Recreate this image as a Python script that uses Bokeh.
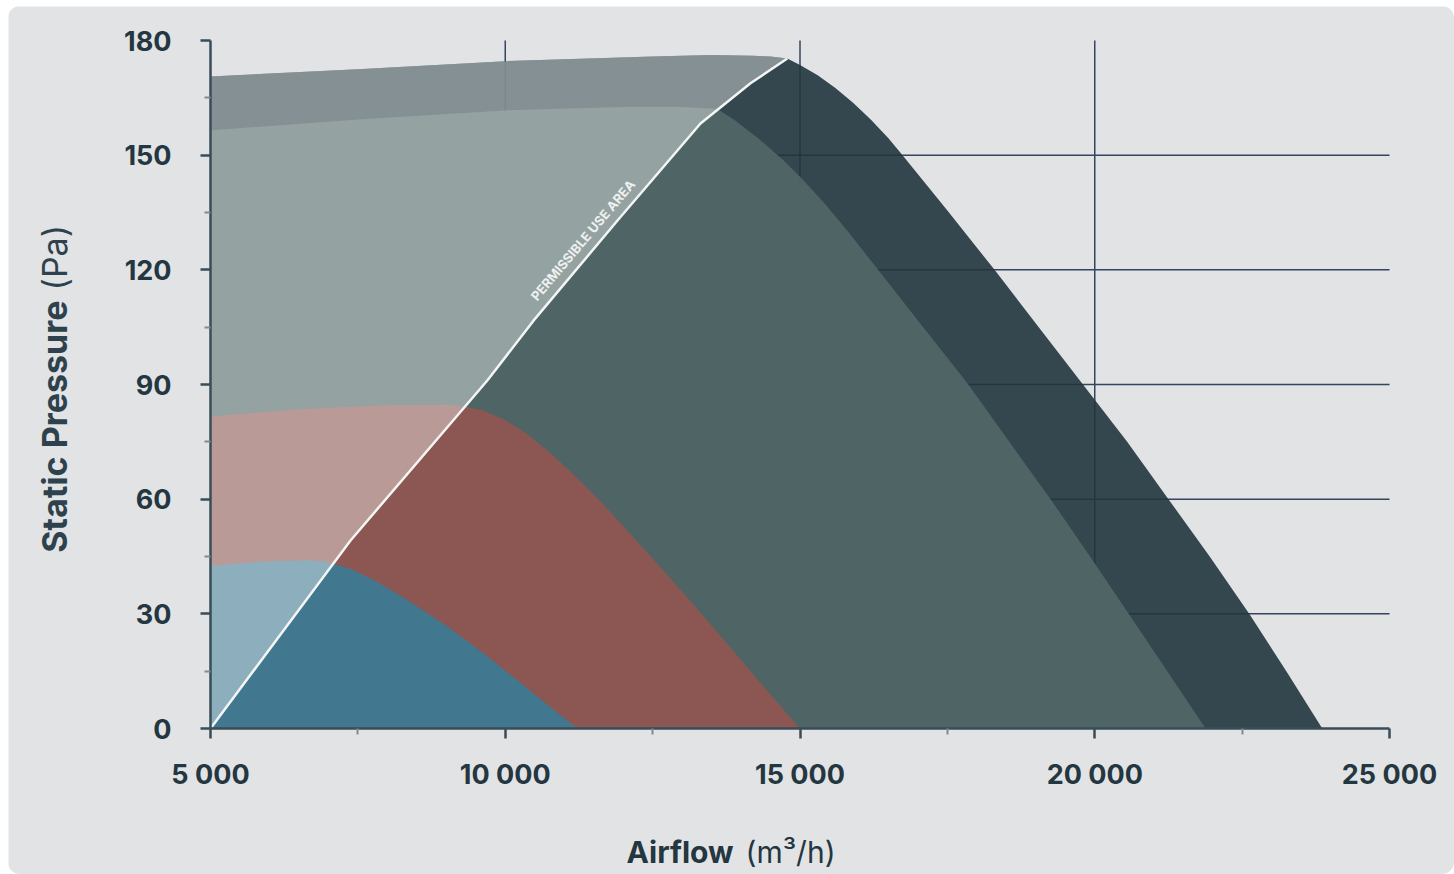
from bokeh.plotting import figure
from bokeh.models import Range1d, FixedTicker, Label, LinearAxis
from bokeh.embed import file_html
from bokeh.resources import INLINE

# ---- data ----
x_ticks = [5000, 10000, 15000, 20000, 25000]
x_tick_labels = ["5 000", "10 000", "15 000", "20 000", "25 000"]
x_minor = [7500, 12500, 17500, 22500]
y_ticks = [0, 30, 60, 90, 120, 150, 180]
y_minor = [15, 45, 75, 105, 135, 165]
x_grid = [10000, 15000, 20000]
y_grid = [30, 60, 90, 120, 150]

# outer (largest) fan curve
navy_x = [5000, 7500, 10000, 12500, 13500, 14200, 14500, 14785, 15000, 15300, 15600, 15900, 16200,
          16500, 16705, 17500, 18300, 19050, 19800, 20550, 21250, 21950, 22620, 23250, 23860]
navy_y = [170.6, 172.5, 174.6, 175.8, 176.2, 176.0, 175.8, 175.3, 173.6, 170.9, 167.6, 163.7, 159.3,
          154.4, 150.6, 135.5, 120.0, 105.0, 90.0, 75.0, 60.0, 45.0, 30.0, 15.0, 0.0]

# second fan curve
grey_x = [5000, 7500, 10000, 12000, 13000, 13600, 13900, 14300, 14700, 15010, 15400, 15800, 16315,
          17080, 17840, 18550, 19250, 19920, 20575, 21230, 21880]
grey_y = [156.5, 159.3, 161.7, 162.6, 162.6, 162.1, 159.1, 154.3, 148.9, 144.2, 137.7, 130.3, 120.2,
          105.2, 90.3, 75.0, 60.0, 45.0, 30.0, 15.0, 0.0]

# third fan curve
red_x = [5000, 6500, 8000, 9000, 9300, 9600, 10000, 10400, 10800, 11200, 11600, 12200, 12800,
         13400, 14000, 14500, 15000]
red_y = [81.6, 83.5, 84.6, 84.7, 84.2, 83.3, 80.7, 76.7, 71.6, 65.8, 59.7, 49.6, 39.3,
         28.7, 17.9, 8.8, 0.0]

# smallest fan curve
blue_x = [5000, 5800, 6700, 7000, 7400, 7800, 8300, 9000, 9600, 10200, 10700, 11220]
blue_y = [42.6, 43.6, 44.0, 43.5, 41.6, 38.6, 34.0, 26.9, 20.0, 12.7, 6.4, 0.0]

# permissible use area boundary
limit_x = [5000, 7375, 9699, 10479, 11904, 13312, 14160, 14785]
limit_y = [0.0, 49.2, 91.1, 106.7, 132.9, 158.3, 168.8, 175.3]

# ---- layout: frame covers the whole canvas, axes are pinned inside it ----
W, H = 1446, 868
PX5000, PX25000 = 202, 1381      # canvas px of x = 5000 / 25000
PY0, PY180 = 722, 34             # canvas px of y = 0 / 180
SX = (PX25000 - PX5000) / 20000.0
SY = (PY0 - PY180) / 180.0
x_lo = 5000 - PX5000 / SX
x_hi = x_lo + W / SX
y_lo = -(H - PY0) / SY
y_hi = y_lo + H / SY

def xd(px):   # canvas px -> data x
    return x_lo + px / SX

def yd(py):   # canvas px (from top) -> data y
    return y_hi - py / SY

BG = "#e2e3e5"
INK = "#243640"
FONT = "Inter"

p = figure(width=W, height=H, output_backend="svg", toolbar_location=None,
           x_range=Range1d(x_lo, x_hi), y_range=Range1d(y_lo, y_hi),
           x_axis_type=None, y_axis_type=None,
           min_border=0, min_border_left=0, min_border_right=0, min_border_top=0, min_border_bottom=0,
           background_fill_color=BG, border_fill_color=BG, outline_line_color=None)
p.grid.visible = False
p.styles = {"margin-left": "8px", "margin-top": "6px", "border-radius": "12px", "overflow": "hidden"}

# grid lines (under the semi-opaque areas)
GRID = "#33455f"
p.segment(x0=x_grid, y0=[y_ticks[0]] * len(x_grid), x1=x_grid, y1=[y_ticks[-1]] * len(x_grid),
          line_color=GRID, line_width=1.5)
p.segment(x0=[x_ticks[0]] * len(y_grid), y0=y_grid, x1=[x_ticks[-1]] * len(y_grid), y1=y_grid,
          line_color=GRID, line_width=1.5)

def shape(xs, ys, color):
    p.patch(xs + [xs[0]], ys + [0.0], fill_color=color, fill_alpha=0.9, line_color=None)

shape(navy_x, navy_y, "#22353d")
shape(grey_x, grey_y, "#526868")
shape(red_x, red_y, "#925550")
shape(blue_x, blue_y, "#397c97")

# lighter (non-permissible) area: above the limit line, under the outer curve
peak = limit_x[-1]
ov_x = limit_x + [x for x in reversed(navy_x) if x < peak]
ov_y = limit_y + [y for x, y in zip(reversed(navy_x), reversed(navy_y)) if x < peak]
p.patch(ov_x, ov_y, fill_color="white", fill_alpha=0.4, line_color=None)

p.line(limit_x, limit_y, line_color="#f4f5f5", line_width=2.5)

p.add_layout(Label(x=limit_x[3], y=limit_y[3], x_offset=6, y_offset=17, text="PERMISSIBLE USE AREA",
                   angle=0.87, text_align="left", text_baseline="bottom",
                   text_font=FONT, text_font_style="bold", text_font_size="13px",
                   text_color="#eef0f0"))

# axes pinned at x = 5000 and y = 0
xaxis = LinearAxis(fixed_location=0, bounds=(x_ticks[0], x_ticks[-1]),
                   ticker=FixedTicker(ticks=x_ticks, minor_ticks=x_minor),
                   major_label_overrides=dict(zip(x_ticks, x_tick_labels)))
yaxis = LinearAxis(fixed_location=5000, bounds=(y_ticks[0], y_ticks[-1]),
                   ticker=FixedTicker(ticks=y_ticks, minor_ticks=y_minor))
for ax in (xaxis, yaxis):
    ax.axis_line_color = "#3a4c57"
    ax.axis_line_width = 2.5
    ax.major_tick_line_color = "#3a4c57"
    ax.major_tick_line_width = 2.5
    ax.major_tick_out = 10
    ax.major_tick_in = 0
    ax.minor_tick_line_color = "#7f8b92"
    ax.minor_tick_line_width = 2
    ax.minor_tick_out = 6
    ax.minor_tick_in = 0
    ax.major_label_text_font = FONT
    ax.major_label_text_font_style = "bold"
    ax.major_label_text_font_size = "27px"
    ax.major_label_text_color = INK
xaxis.major_label_standoff = 19
yaxis.major_label_standoff = 29
p.add_layout(xaxis, "below")
p.add_layout(yaxis, "left")

# axis titles (bold + normal parts)
p.add_layout(Label(x=xd(725), y=yd(845), text="Airflow", text_align="right", text_baseline="middle",
                   text_font=FONT, text_font_style="bold", text_font_size="30px", text_color=INK))
p.add_layout(Label(x=xd(737), y=yd(845), text="(m³/h)", text_align="left", text_baseline="middle",
                   text_font=FONT, text_font_style="normal", text_font_size="30px", text_color=INK))
p.add_layout(Label(x=xd(46), y=yd(294), text="Static Pressure", angle=1.5708, text_align="right",
                   text_baseline="middle", text_font=FONT, text_font_style="bold",
                   text_font_size="34px", text_color="#2e424d"))
p.add_layout(Label(x=xd(46), y=yd(284), text="(Pa)", angle=1.5708, text_align="left",
                   text_baseline="middle", text_font=FONT, text_font_style="normal",
                   text_font_size="34px", text_color="#2e424d"))

open("out.html", "w").write(file_html(p, INLINE))
